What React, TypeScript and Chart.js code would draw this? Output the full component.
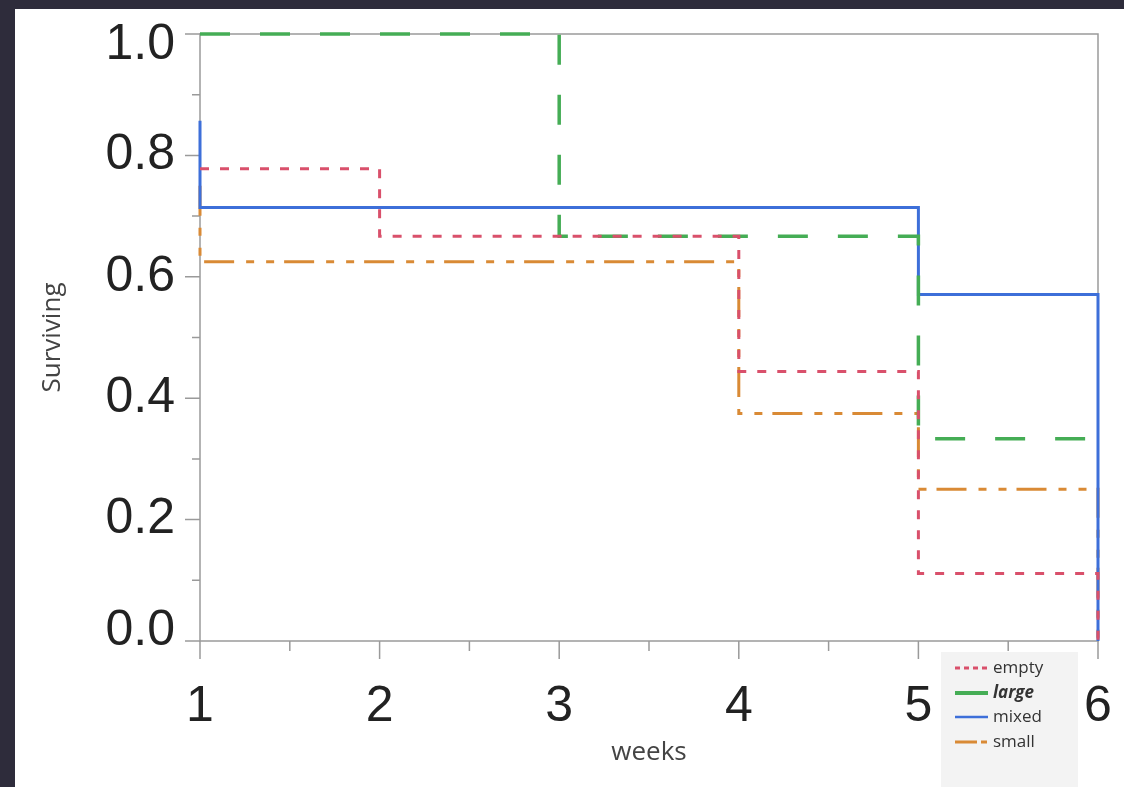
import React, { useEffect, useRef } from "react";
import { Chart, registerables } from "chart.js";
Chart.register(...registerables);

// ---- data (Kaplan-Meier style step curves) ----
const seriesNames = ["empty", "large", "mixed", "small"];
const weeksEmpty = [1, 2, 4, 5, 6];
const survEmpty = [0.778, 0.667, 0.444, 0.111, 0];
const weeksLarge = [1, 3, 5, 6];
const survLarge = [1.0, 0.667, 0.333, 0.333];
const weeksMixed = [1, 1, 5, 6];
const survMixed = [0.857, 0.714, 0.571, 0];
const weeksSmall = [1, 1, 4, 5, 6];
const survSmall = [0.75, 0.625, 0.375, 0.25, 0];
const xTickLabels = ["1", "2", "3", "4", "5", "6"];
const yTickLabels = ["0.0", "0.2", "0.4", "0.6", "0.8", "1.0"];

// ---- styles ----
const colors = ["#d9506b", "#45ad55", "#3d6fd9", "#d98a35"];
const widths = [3, 3.5, 3, 3];
const dashes: number[][] = [[9, 11], [30, 30], [], [30, 12, 8, 12, 8, 10]];
const legendDashes: number[][] = [[5, 4], [], [], [22, 4, 6, 10]];
const legendWidths = [3, 4, 2.5, 3];

const toPoints = (xs: number[], ys: number[]) => xs.map((x, i) => ({ x, y: ys[i] }));

const framePlugin = {
  id: "frameTicks",
  beforeDatasetsDraw(chart: any) {
    const { ctx, chartArea } = chart;
    const { left, right, top, bottom } = chartArea;
    ctx.save();
    ctx.strokeStyle = "#9a9a9a";
    ctx.lineWidth = 1.5;
    ctx.strokeRect(left, top, right - left, bottom - top);
    const xs = chart.scales.x;
    const ys = chart.scales.y;
    ctx.beginPath();
    xs.ticks.forEach((t: any) => {
      const px = xs.getPixelForValue(t.value);
      const major = Math.abs(t.value - Math.round(t.value)) < 1e-6;
      ctx.moveTo(px, bottom);
      ctx.lineTo(px, bottom + (major ? 18 : 10));
    });
    ys.ticks.forEach((t: any) => {
      const py = ys.getPixelForValue(t.value);
      const major = Math.round(t.value * 10) % 2 === 0;
      ctx.moveTo(left, py);
      ctx.lineTo(left - (major ? 15 : 8), py);
    });
    ctx.stroke();
    ctx.restore();
  },
  afterDraw(chart: any) {
    const { ctx } = chart;
    ctx.save();
    ctx.fillStyle = "#f3f3f3";
    ctx.fillRect(926, 643, 137, 140);
    const rowY = [659, 684, 708, 733];
    seriesNames.forEach((name, i) => {
      const y = rowY[i];
      ctx.strokeStyle = colors[i];
      ctx.lineWidth = legendWidths[i];
      ctx.setLineDash(legendDashes[i]);
      ctx.beginPath();
      ctx.moveTo(940, y);
      ctx.lineTo(973, y);
      ctx.stroke();
      ctx.setLineDash([]);
      ctx.fillStyle = "#333";
      ctx.textBaseline = "middle";
      ctx.textAlign = "left";
      ctx.font = (i === 1 ? "italic bold " : "") + "17px 'Open Sans'";
      ctx.fillText(name, 978, y);
    });
    ctx.restore();
  },
};

export default function App() {
  const ref = useRef<HTMLCanvasElement>(null);
  useEffect(() => {
    if (!ref.current) return;
    const data = [
      toPoints(weeksEmpty, survEmpty),
      toPoints(weeksLarge, survLarge),
      toPoints(weeksMixed, survMixed),
      toPoints(weeksSmall, survSmall),
    ];
    const chart = new Chart(ref.current, {
      type: "line",
      data: {
        datasets: seriesNames.map((name, i) => ({
          label: name,
          data: data[i],
          borderColor: colors[i],
          borderWidth: widths[i],
          borderDash: dashes[i],
          stepped: "before" as const,
          pointRadius: 0,
          fill: false,
          clip: false as any,
        })),
      },
      options: {
        animation: false,
        responsive: false,
        devicePixelRatio: 1,
        layout: { padding: { top: 25, right: 26, left: 0, bottom: 0 } },
        plugins: { legend: { display: false }, tooltip: { enabled: false } },
        scales: {
          x: {
            type: "linear",
            min: 1,
            max: 6,
            grid: { drawOnChartArea: false, drawTicks: false },
            border: { display: false },
            ticks: {
              stepSize: 0.5,
              autoSkip: false,
              maxRotation: 0,
              padding: 36,
              color: "#222",
              font: { family: "'Liberation Sans', Arial", size: 50 },
              callback: (v: any) => {
                const n = Number(v);
                if (Math.abs(n - Math.round(n)) > 1e-6) return "";
                return xTickLabels[Math.round(n) - 1] ?? "";
              },
            },
            title: {
              display: true,
              text: "weeks",
              color: "#444",
              font: { family: "'Open Sans'", size: 26 },
              padding: { top: 0, bottom: 19 },
            },
            afterFit: (s: any) => {
              s.height = 146;
              s.paddingLeft = 0;
              s.paddingRight = 0;
            },
          },
          y: {
            type: "linear",
            min: 0,
            max: 1,
            grid: { drawOnChartArea: false, drawTicks: false },
            border: { display: false },
            ticks: {
              stepSize: 0.1,
              autoSkip: false,
              padding: 25,
              color: "#222",
              font: (c: any) => {
                const v = c.tick ? Math.round(c.tick.value * 10) : 5;
                let lh = 1.2;
                if (v === 10) lh = 0.44;
                if (v === 0) lh = 0.4;
                return { family: "'Liberation Sans', Arial", size: 50, lineHeight: lh };
              },
              callback: (v: any) => {
                const k = Math.round(Number(v) * 10);
                if (k % 2 !== 0) return "";
                const lbl = yTickLabels[k / 2];
                if (k === 10) return ["", lbl];
                if (k === 0) return [lbl, ""];
                return lbl;
              },
            },
            title: {
              display: true,
              text: "Surviving",
              color: "#444",
              font: { family: "'Open Sans'", size: 26 },
              padding: { top: 22, bottom: 0 },
            },
            afterFit: (s: any) => {
              s.width = 185;
              s.paddingTop = 0;
              s.paddingBottom = 0;
            },
          },
        },
      },
      plugins: [framePlugin],
    });
    return () => chart.destroy();
  }, []);

  return (
    <div style={{ position: "fixed", left: 0, top: 0, width: 1124, height: 787, background: "#2e2c3b", overflow: "hidden" }}>
      <div style={{ position: "absolute", left: 15, top: 9, width: 1109, height: 778, background: "#ffffff" }}>
        <canvas ref={ref} width={1109} height={778} style={{ width: 1109, height: 778, display: "block" }} />
      </div>
    </div>
  );
}
